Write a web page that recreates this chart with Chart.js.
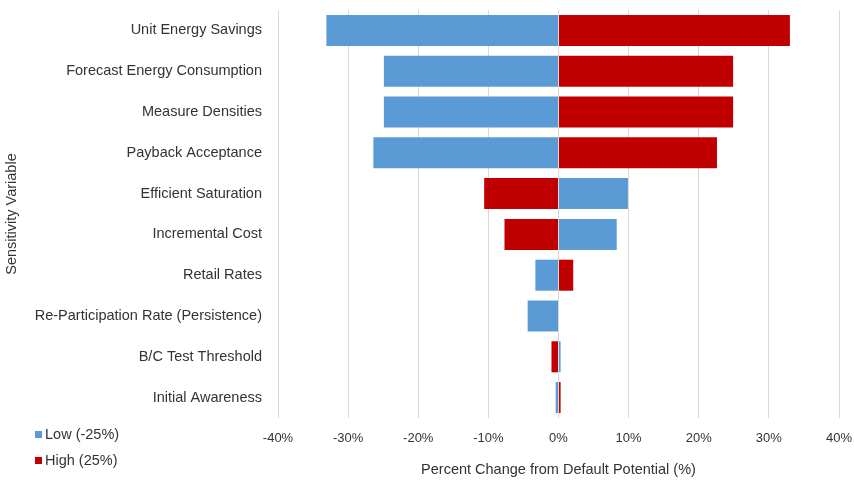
<!DOCTYPE html>
<html>
<head>
<meta charset="utf-8">
<script src="https://cdn.jsdelivr.net/npm/chart.js@4/dist/chart.umd.min.js"></script>
<style>
body{margin:0;background:#fff;}
#wrap{position:relative;width:854px;height:483px;}
.leyenda{position:absolute;left:35px;font:14.5px "Liberation Sans",Arial,sans-serif;color:#333;}
.leyenda span{display:inline-block;width:7px;height:7px;margin-right:3px;vertical-align:1px;}
</style>
</head>
<body>
<div id="wrap">
<canvas id="myChart" width="854" height="483"></canvas>
<div class="leyenda" style="top:426px"><span style="background:#5B9BD5"></span>Low (-25%)</div>
<div class="leyenda" style="top:452px"><span style="background:#C00000"></span>High (25%)</div>
</div>
<script>
const variables=['Unit Energy Savings','Forecast Energy Consumption','Measure Densities','Payback Acceptance','Efficient Saturation','Incremental Cost','Retail Rates','Re-Participation Rate (Persistence)','B/C Test Threshold','Initial Awareness'];
const bajo=[-33.1,-24.9,-24.9,-26.4,9.9,8.3,-3.3,-4.4,0.3,-0.4];
const alto=[33.0,24.9,24.9,22.6,-10.6,-7.7,2.1,0,-1.0,0.3];
const ticksX=[-40,-30,-20,-10,0,10,20,30,40];

const fuente={family:'"Liberation Sans", Arial, sans-serif',size:14.5};
const fuenteTick={family:'"Liberation Sans", Arial, sans-serif',size:13};
const gris='#333333';

const data={
    labels: variables,
    datasets: [{
        label: 'Low (-25%)',
        data: bajo,
        backgroundColor: '#5B9BD5',
        barPercentage: 0.76,
        categoryPercentage: 1
    },{
        label: 'High (25%)',
        data: alto,
        backgroundColor: '#C00000',
        barPercentage: 0.76,
        categoryPercentage: 1
    }]
};

const config={
    type: 'bar',
    data,
    options: {
        indexAxis: 'y',
        responsive: false,
        animation: false,
        layout: {padding: {top: 10, right: 15, left: 0, bottom: 0}},
        plugins: {
            legend: {display: false},
            tooltip: {enabled: false}
        },
        scales: {
            x: {
                stacked: true,
                min: -40,
                max: 40,
                afterBuildTicks: (scale) => {
                    scale.ticks=ticksX.map(v => ({value: v}));
                },
                afterFit: (scale) => {
                    scale.height=65;
                    scale.paddingLeft=0;
                    scale.paddingRight=0;
                },
                grid: {color: '#d9d9d9', drawTicks: false},
                border: {display: false},
                ticks: {
                    color: gris,
                    font: fuenteTick,
                    padding: 13,
                    maxRotation: 0,
                    callback: (v) => v+'%'
                },
                title: {
                    display: true,
                    text: 'Percent Change from Default Potential (%)',
                    color: gris,
                    font: fuente,
                    padding: {top: 15}
                }
            },
            y: {
                stacked: true,
                afterFit: (scale) => {
                    scale.width=278;
                    scale.paddingTop=0;
                    scale.paddingBottom=0;
                },
                grid: {display: false, drawTicks: false},
                border: {display: false},
                ticks: {color: gris, font: fuente, padding: 16},
                title: {
                    display: true,
                    text: 'Sensitivity Variable',
                    color: gris,
                    font: fuente,
                    padding: {top: 3, bottom: 0}
                }
            }
        }
    }
};
const ctx=document.getElementById('myChart');
const myChart=new Chart(ctx,config);
</script>
</body>
</html>
